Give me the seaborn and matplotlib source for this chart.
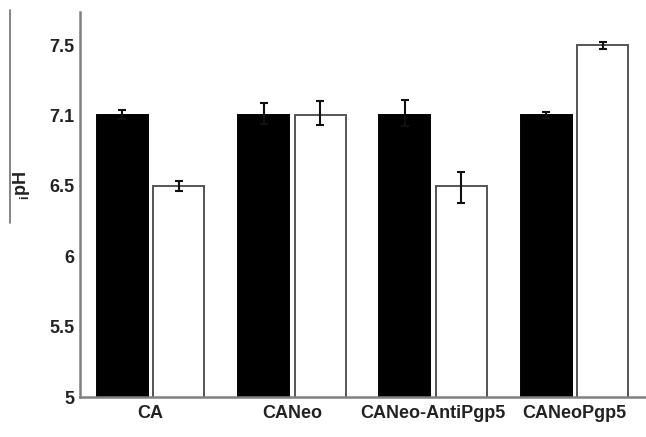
"""
细胞内 pH 柱状图
"""
import numpy as np
import pandas as pd
import matplotlib
matplotlib.use("Agg")
import matplotlib.pyplot as plt
from matplotlib.lines import Line2D
import seaborn as sns

# 数据
groups = ["CA", "CANeo", "CANeo-AntiPgp5", "CANeoPgp5"]
series = ["series 1", "series 2"]
black_ph = [7.1, 7.1, 7.1, 7.1]
white_ph = [6.5, 7.1, 6.5, 7.5]
black_err = [0.03, 0.07, 0.09, 0.02]
white_err = [0.04, 0.08, 0.12, 0.02]
ph_ticks = [5, 5.5, 6, 6.5, 7.1, 7.5]
ph_tick_labels = ["5", "5.5", "6", "6.5", "7.1", "7.5"]

df = pd.DataFrame({
    "group": groups * 2,
    "series": [series[0]] * len(groups) + [series[1]] * len(groups),
    "ph": black_ph + white_ph,
})

sns.set_style("white")
plt.rcParams["font.family"] = ["Liberation Sans", "DejaVu Sans"]
plt.rcParams["mathtext.fontset"] = "custom"
plt.rcParams["mathtext.rm"] = "Liberation Sans:bold"
plt.rcParams["mathtext.bf"] = "Liberation Sans:bold"

fig = plt.figure(figsize=(6.46, 4.37), dpi=100)
ax = fig.add_axes([80 / 646, 1 - 397 / 437, 565 / 646, 385 / 437])

sns.barplot(data=df, x="group", y="ph", hue="series", order=groups,
            hue_order=series, palette={series[0]: "black", series[1]: "white"},
            width=0.8, gap=0.1, errorbar=None, legend=False, ax=ax)

edge_colors = ["black", "#555555"]
for cont, ec, err in zip(ax.containers, edge_colors, [black_err, white_err]):
    xs, ys = [], []
    for bar in cont:
        bar.set_edgecolor(ec)
        bar.set_linewidth(1.4)
        xs.append(bar.get_x() + bar.get_width() / 2)
        ys.append(bar.get_y() + bar.get_height())
    ax.errorbar(xs, ys, yerr=err, fmt="none", ecolor="#111111",
                elinewidth=1.5, capsize=3, capthick=1.5, zorder=5)

# y 轴刻度等距排列 (原图 7.1 与其他刻度等距)
xp = np.array([0] + ph_ticks + [9.5])
fp = np.array([-10, 0, 1, 2, 3, 4, 5, 10], dtype=float)


def fwd(v):
    return np.interp(v, xp, fp)


def inv(v):
    return np.interp(v, fp, xp)


ax.set_yscale("function", functions=(fwd, inv))
ax.set_ylim(ph_ticks[0], inv(5.47))
ax.set_yticks(ph_ticks)
ax.set_yticklabels(ph_tick_labels)
ax.yaxis.set_minor_locator(matplotlib.ticker.NullLocator())

ax.set_xlim(-0.5, len(groups) - 0.5)
ax.set_xticks(np.arange(0.5, len(groups) - 0.5), minor=True)

for side in ["top", "right"]:
    ax.spines[side].set_visible(False)
for side in ["left", "bottom"]:
    ax.spines[side].set_color("#808080")
    ax.spines[side].set_linewidth(1.8)

ax.tick_params(axis="y", which="major", direction="out", length=3, width=1,
               color="#555555", labelsize=13, labelcolor="#222222", pad=1)
ax.tick_params(axis="x", which="major", length=0, labelsize=13,
               labelcolor="#222222", pad=6)
ax.tick_params(axis="x", which="minor", direction="out", length=3, width=1,
               color="#555555")
for lbl in ax.get_xticklabels() + ax.get_yticklabels():
    lbl.set_fontweight("bold")

ax.set_xlabel("")
ax.set_ylabel(r"$_\mathbf{i}$pH", fontsize=13, fontweight="bold", color="#222222")
ax.yaxis.set_label_coords(-0.085, 0.55)

# 左侧细线
fig.add_artist(Line2D([10 / 646, 10 / 646], [1 - 10 / 437, 1 - 223 / 437],
                      transform=fig.transFigure, color="#707070", linewidth=1.2))

plt.savefig("out.png", dpi=100)
